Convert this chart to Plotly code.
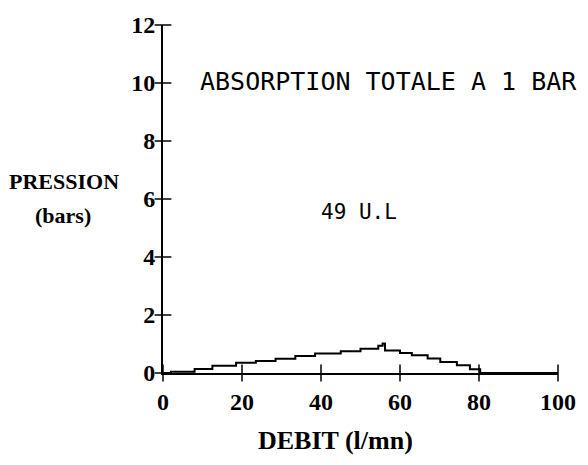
import plotly.graph_objects as go

# Data
debit = [0, 2, 8, 12.5, 18.5, 23.5, 28.5, 33.5, 38.5, 45, 50, 54.5, 55.6, 56.2,
         60, 63, 67, 70.2, 74.4, 77.7, 80.3, 100]
pression = [0, 0.04, 0.14, 0.25, 0.35, 0.41, 0.49, 0.59, 0.67, 0.75, 0.84, 0.94, 1.02, 0.78,
            0.69, 0.61, 0.5, 0.38, 0.27, 0.13, 0, 0]

x_ticks = [0, 20, 40, 60, 80, 100]
y_ticks = [0, 2, 4, 6, 8, 10, 12]

title_text = "ABSORPTION TOTALE A 1 BAR"
note_text = "49 U.L"
x_title = "DEBIT (l/mn)"
y_title_1 = "PRESSION"
y_title_2 = "(bars)"

serif = "Liberation Serif"
mono = "DejaVu Sans Mono"

fig = go.Figure()
fig.add_trace(go.Scatter(x=debit, y=pression, mode="lines",
                         line=dict(color="black", width=2, shape="hv"),
                         showlegend=False, hoverinfo="skip"))
# cross-shaped tick marks ("+") on both axes
fig.add_trace(go.Scatter(x=x_ticks, y=[0] * len(x_ticks), mode="markers",
                         marker=dict(symbol="line-ns", size=12,
                                     line=dict(color="black", width=1.5)),
                         cliponaxis=False, showlegend=False, hoverinfo="skip"))
fig.add_trace(go.Scatter(x=[0] * len(y_ticks), y=y_ticks, mode="markers",
                         marker=dict(symbol="line-ew", size=12,
                                     line=dict(color="black", width=1.5)),
                         cliponaxis=False, showlegend=False, hoverinfo="skip"))

tickfont = dict(family=serif, size=24, color="black", weight="bold")

fig.update_layout(
    width=588, height=465,
    margin=dict(l=163, r=26, t=21, b=92),
    paper_bgcolor="white", plot_bgcolor="white",
    xaxis=dict(range=[0, 100], tickvals=x_ticks, ticktext=[str(v) for v in x_ticks],
               showline=True, linecolor="black", linewidth=2,
               ticks="outside", ticklen=6, tickcolor="rgba(0,0,0,0)",
               showgrid=False, zeroline=False, tickfont=tickfont),
    yaxis=dict(range=[0, 12], tickvals=y_ticks, ticktext=[str(v) for v in y_ticks],
               showline=True, linecolor="black", linewidth=2,
               ticks="outside", ticklen=1, tickcolor="rgba(0,0,0,0)",
               showgrid=False, zeroline=False, tickfont=tickfont),
    showlegend=False,
)

ann_font_serif = dict(family=serif, size=22, color="black", weight="bold")
fig.add_annotation(text=title_text, xref="paper", yref="paper", x=0.571, y=0.838,
                   showarrow=False, xanchor="center", yanchor="middle",
                   font=dict(family=mono, size=25, color="black"))
fig.add_annotation(text=note_text, xref="paper", yref="paper", x=0.496, y=0.463,
                   showarrow=False, xanchor="center", yanchor="middle",
                   font=dict(family=mono, size=21, color="black"))
fig.add_annotation(text=x_title, xref="paper", yref="paper", x=0.436, y=-0.193,
                   showarrow=False, xanchor="center", yanchor="middle",
                   font=dict(family=serif, size=26, color="black", weight="bold"))
fig.add_annotation(text=y_title_1, xref="paper", yref="paper", x=-0.251, y=0.551,
                   showarrow=False, xanchor="center", yanchor="middle", font=ann_font_serif)
fig.add_annotation(text=y_title_2, xref="paper", yref="paper", x=-0.253, y=0.452,
                   showarrow=False, xanchor="center", yanchor="middle", font=ann_font_serif)

fig.write_html("out.html", config={"displayModeBar": False},
               post_script="document.body.style.margin='0';document.body.style.overflow='hidden';")
